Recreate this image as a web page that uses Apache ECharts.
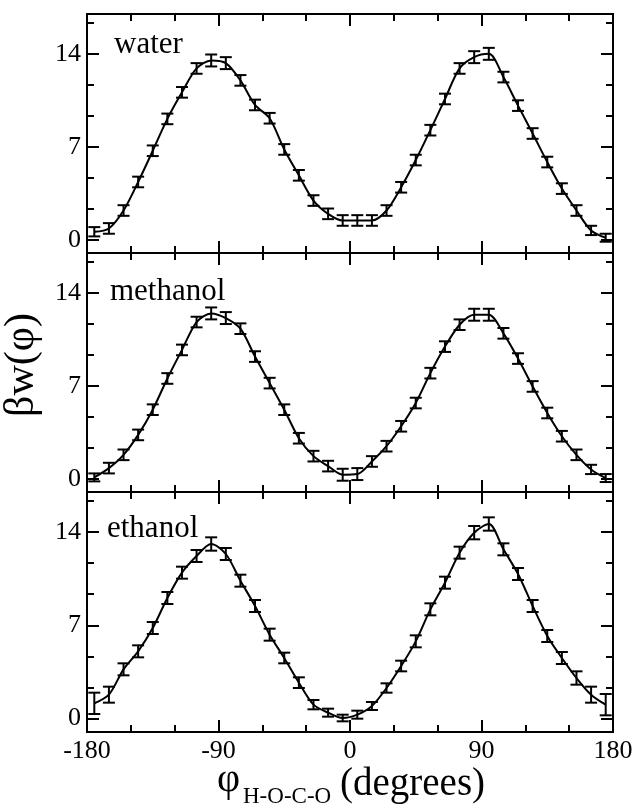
<!DOCTYPE html>
<html>
<head>
<meta charset="utf-8">
<script src="https://cdn.jsdelivr.net/npm/echarts@6/dist/echarts.min.js"></script>
<style>
html,body{margin:0;padding:0;background:#fff;}
#chart{width:639px;height:807px;}
</style>
</head>
<body>
<div id="chart"></div>
<script>
// ---- data ----
const phi = [-175,-165,-155,-145,-135,-125,-115,-105,-95,-85,-75,-65,-55,-45,-35,-25,-15,-5,
             5,15,25,35,45,55,65,75,85,95,105,115,125,135,145,155,165,175];
const water = [0.6,0.85,2.2,4.35,6.7,9.1,11.1,12.9,13.5,13.3,12.0,10.15,9.15,6.8,4.85,2.95,1.95,1.45,
               1.45,1.45,2.2,3.95,6.0,8.25,10.6,12.9,13.75,14.0,12.25,10.1,8.0,5.85,3.85,2.2,0.7,0.15];
const methanol = [0.1,0.8,1.8,3.3,5.2,7.55,9.7,11.8,12.45,12.1,11.3,9.2,7.2,5.2,3.05,1.7,0.95,0.3,
                  0.35,1.3,2.45,3.95,5.7,7.95,9.95,11.6,12.35,12.35,10.95,9.05,6.95,4.95,3.2,1.8,0.7,0.05];
const ethanol = [1.15,1.8,3.7,5.05,6.8,9.05,10.95,12.2,13.1,12.35,10.35,8.45,6.3,4.55,2.7,1.05,0.45,0.05,
                 0.3,0.95,2.3,3.95,5.8,8.2,10.2,12.45,13.95,14.6,12.7,10.85,8.45,6.2,4.55,3.05,1.8,1.05];
const waterErr = [0.35,0.4,0.4,0.4,0.4,0.4,0.4,0.4,0.45,0.45,0.4,0.4,0.4,0.4,0.4,0.4,0.4,0.4,
                  0.4,0.4,0.4,0.4,0.4,0.4,0.4,0.4,0.45,0.45,0.4,0.4,0.4,0.4,0.4,0.4,0.35,0.3];
const methanolErr = [0.3,0.4,0.4,0.4,0.4,0.4,0.4,0.4,0.45,0.45,0.4,0.4,0.4,0.4,0.4,0.4,0.4,0.45,
                     0.45,0.4,0.4,0.4,0.4,0.4,0.4,0.4,0.45,0.45,0.4,0.4,0.4,0.4,0.4,0.4,0.35,0.3];
const ethanolErr = [0.8,0.6,0.45,0.45,0.45,0.45,0.45,0.45,0.5,0.45,0.45,0.45,0.45,0.4,0.4,0.35,0.3,0.25,
                    0.3,0.3,0.35,0.4,0.45,0.45,0.45,0.45,0.5,0.5,0.45,0.45,0.45,0.45,0.45,0.5,0.6,0.8];
const panelNames = ['water','methanol','ethanol'];
const yMajor = [0,7,14];
const yMinor = [7/3,14/3,28/3,35/3,49/3];

// ---- chart ----
const FONT = '"Liberation Serif", "DejaVu Serif", serif';
const panels = [water, methanol, ethanol];
const errs = [waterErr, methanolErr, ethanolErr];
const grids = [
  {left:87, top:14, width:526, height:239},
  {left:87, top:253, width:526, height:239},
  {left:87, top:492, width:526, height:240}
];
const xAxes = [], yAxes = [], series = [];
grids.forEach((g, i) => {
  g.show = true; g.borderColor = '#000'; g.borderWidth = 2; g.backgroundColor = 'transparent';
  ['bottom','top'].forEach(pos => {
    xAxes.push({
      type:'value', gridIndex:i, position:pos, min:-180, max:180, interval:90,
      axisLine:{show:true, onZero:false, lineStyle:{color:'#000', width:2}},
      axisTick:{show:true, inside:true, length:12, lineStyle:{color:'#000', width:2}},
      minorTick:{show:true, splitNumber:3, length:7, lineStyle:{color:'#000', width:2}},
      axisLabel:{show: (pos==='bottom' && i===2), color:'#000', fontFamily:FONT, fontSize:26, margin:6,
                 formatter: v => String(v)},
      splitLine:{show:false}, minorSplitLine:{show:false}
    });
  });
  ['left','right'].forEach(pos => {
    yAxes.push({
      type:'value', gridIndex:i, position:pos, min:-1, max:17,
      axisLine:{show:true, onZero:false, lineStyle:{color:'#000', width:2}},
      axisTick:{show:true, inside:true, length:12, customValues:yMajor, lineStyle:{color:'#000', width:2}},
      axisLabel:{show: pos==='left', customValues:yMajor, color:'#000', fontFamily:FONT, fontSize:26, margin:6},
      splitLine:{show:false}
    });
    yAxes.push({
      type:'value', gridIndex:i, position:pos, min:-1, max:17,
      axisLine:{show:false, onZero:false},
      axisTick:{show:true, inside:true, length:7, customValues:yMinor, lineStyle:{color:'#000', width:2}},
      axisLabel:{show:false},
      splitLine:{show:false}
    });
  });
  const vals = panels[i], er = errs[i];
  series.push({
    type:'line', xAxisIndex:2*i, yAxisIndex:4*i, smooth:0.3, symbol:'none',
    lineStyle:{color:'#000', width:2}, data: phi.map((p,k)=>[p, vals[k]]), silent:true, z:3
  });
  series.push({
    type:'custom', xAxisIndex:2*i, yAxisIndex:4*i, silent:true, z:4,
    data: phi.map((p,k)=>[p, vals[k], er[k]]),
    renderItem: function(params, api){
      const x = api.value(0), y = api.value(1), e = api.value(2);
      const hi = api.coord([x, y+e]), lo = api.coord([x, y-e]);
      const w = 6;
      const st = {stroke:'#000', lineWidth:2};
      return {type:'group', children:[
        {type:'line', shape:{x1:hi[0], y1:hi[1], x2:lo[0], y2:lo[1]}, style:st},
        {type:'line', shape:{x1:hi[0]-w, y1:hi[1], x2:hi[0]+w, y2:hi[1]}, style:st},
        {type:'line', shape:{x1:lo[0]-w, y1:lo[1], x2:lo[0]+w, y2:lo[1]}, style:st}
      ]};
    }
  });
});

const labelPos = [[114,60],[110,307],[107,544]];
const graphics = panelNames.map((n,i)=>({
  type:'text', x:labelPos[i][0], y:labelPos[i][1],
  style:{text:n, font:'31px '+FONT, fill:'#000', align:'left', verticalAlign:'bottom'}
}));
graphics.push({type:'text', x:22, y:365, rotation:Math.PI/2,
  style:{text:'βw(φ)', font:'42px '+FONT, fill:'#000', align:'center', verticalAlign:'middle'}});
graphics.push({type:'text', x:217, y:800,
  style:{text:'φ', font:'40px '+FONT, fill:'#000', align:'left', verticalAlign:'bottom'}});
graphics.push({type:'text', x:243, y:808,
  style:{text:'H-O-C-O', font:'23px '+FONT, fill:'#000', align:'left', verticalAlign:'bottom'}});
graphics.push({type:'text', x:340, y:804,
  style:{text:'(degrees)', font:'39px '+FONT, fill:'#000', align:'left', verticalAlign:'bottom'}});

const chart = echarts.init(document.getElementById('chart'), null, {renderer:'canvas'});
chart.setOption({
  animation:false,
  backgroundColor:'#fff',
  grid: grids,
  xAxis: xAxes,
  yAxis: yAxes,
  series: series,
  graphic: graphics
});
</script>
</body>
</html>
